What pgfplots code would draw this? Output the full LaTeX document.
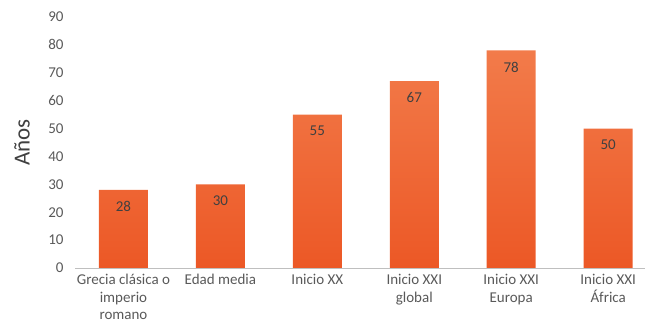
\documentclass[border=0pt]{standalone}
\usepackage{pgfplots}
\pgfplotsset{compat=1.18}
\usepackage{fontspec}
\setmainfont{Carlito}
\definecolor{bartop}{HTML}{F27B4A}
\definecolor{barbot}{HTML}{EC5826}
\definecolor{txt}{HTML}{595959}
\definecolor{lbl}{HTML}{404040}
\definecolor{axc}{HTML}{BFBFBF}
\begin{document}
\begin{tikzpicture}
\useasboundingbox (0,0) rectangle (645pt,331pt);
\begin{axis}[
  at={(75pt,63pt)}, anchor=south west,
  scale only axis, width=570pt, height=251pt,
  xmin=-0.5, xmax=5.38, ymin=0, ymax=90,
  ytick={0,10,...,90},
  xtick=data,
  xticklabels={{Grecia clásica o\\imperio\\romano},{Edad media},{Inicio XX},{Inicio XXI\\global},{Inicio XXI\\Europa},{Inicio XXI\\África}},
  x tick label style={align=center, font=\fontsize{15}{17.5}\selectfont, text=txt, anchor=north, yshift=-3pt},
  y tick label style={font=\fontsize{15}{17}\selectfont, text=txt, xshift=-8pt},
  /pgf/number format/assume math mode=true,
  major tick length=0pt,
  axis y line*=left,
  y axis line style={draw=none},
  axis x line*=bottom,
  x axis line style={draw=axc, -},
  ylabel={\fontsize{23}{26}\selectfont Años},
  ylabel style={text=lbl, at={(-53pt,0.5)}, anchor=center, rotate=0},
  ybar, bar width=49pt,
  nodes near coords,
  nodes near coords style={font=\fontsize{15}{17}\selectfont, text=lbl, anchor=north, yshift=-8pt},
  clip=false,
]
\addplot[draw=none, top color=bartop, bottom color=barbot] coordinates {(0,28) (1,30) (2,55) (3,67) (4,78) (5,50)};
\end{axis}
\end{tikzpicture}
\end{document}
